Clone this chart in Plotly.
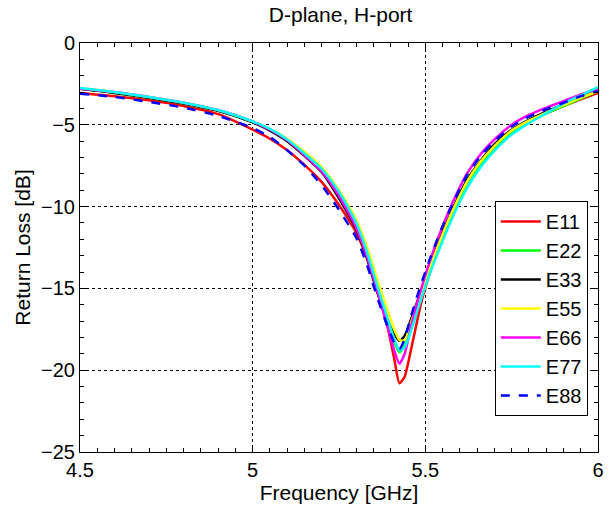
import plotly.graph_objects as go

freq = [4.5, 4.6, 4.7, 4.8, 4.9, 5.0, 5.05, 5.1, 5.15, 5.2, 5.25, 5.3, 5.33, 5.36,
        5.39, 5.41, 5.425, 5.44, 5.46, 5.49, 5.52, 5.55, 5.58, 5.62, 5.66, 5.7,
        5.75, 5.8, 5.85, 5.9, 5.95, 6.0]

E11 = [-3.05, -3.25, -3.5, -3.85, -4.35, -5.3, -5.85, -6.55, -7.45, -8.5, -9.9, -11.6,
       -13.1, -15.0, -17.3, -19.3, -20.8, -20.4, -18.6, -15.7, -13.6, -11.8, -10.3,
       -8.5, -7.3, -6.3, -5.4, -4.8, -4.3, -3.85, -3.45, -3.05]
E22 = [-2.8, -3.05, -3.35, -3.7, -4.15, -4.85, -5.3, -5.95, -6.8, -7.8, -9.3, -11.2,
       -12.9, -15.0, -17.0, -18.3, -18.9, -18.5, -17.3, -15.4, -13.6, -11.9, -10.4,
       -8.6, -7.4, -6.4, -5.45, -4.8, -4.3, -3.85, -3.4, -2.95]
E33 = [-2.8, -3.05, -3.35, -3.7, -4.15, -4.85, -5.35, -6.0, -6.9, -7.9, -9.5, -11.4,
       -13.1, -15.2, -16.9, -17.8, -18.2, -17.9, -16.8, -15.0, -13.2, -11.6, -10.1,
       -8.4, -7.2, -6.2, -5.3, -4.7, -4.2, -3.75, -3.3, -2.9]
E55 = [-2.75, -3.0, -3.3, -3.65, -4.1, -4.8, -5.25, -5.85, -6.65, -7.6, -9.0, -10.8,
       -12.4, -14.4, -16.3, -17.5, -18.15, -18.2, -17.0, -15.1, -13.3, -11.7, -10.2,
       -8.5, -7.25, -6.3, -5.35, -4.75, -4.25, -3.8, -3.35, -2.95]
E66 = [-2.8, -3.0, -3.3, -3.65, -4.1, -4.8, -5.3, -5.95, -6.85, -7.85, -9.35, -11.3,
       -13.0, -15.1, -17.3, -18.8, -19.6, -19.0, -17.2, -14.9, -12.9, -11.2, -9.7,
       -8.0, -6.8, -5.9, -5.0, -4.4, -3.95, -3.55, -3.15, -2.8]
E77 = [-2.75, -3.0, -3.3, -3.65, -4.1, -4.8, -5.25, -5.9, -6.75, -7.7, -9.1, -11.0,
       -12.7, -14.8, -16.8, -18.1, -18.8, -18.6, -17.5, -15.5, -13.7, -12.1, -10.6,
       -8.9, -7.6, -6.6, -5.6, -4.9, -4.3, -3.7, -3.2, -2.7]
E88 = [-3.1, -3.3, -3.6, -3.95, -4.45, -5.2, -5.75, -6.55, -7.5, -8.7, -10.2, -11.9,
       -13.5, -15.5, -17.3, -18.3, -18.7, -18.1, -16.6, -14.6, -12.8, -11.2, -9.8,
       -8.1, -6.9, -6.0, -5.1, -4.5, -4.05, -3.65, -3.25, -2.95]

names = ["E11", "E22", "E33", "E55", "E66", "E77", "E88"]
series = [E11, E22, E33, E55, E66, E77, E88]
colors = ["#ff0000", "#00ff00", "#000000", "#ffff00", "#ff00ff", "#00ffff", "#0000ff"]
dashes = ["solid"] * 6 + ["dash"]

FONT = "Liberation Sans, Arial, sans-serif"

fig = go.Figure()
for n, s, c, d in zip(names, series, colors, dashes):
    fig.add_trace(go.Scatter(x=freq, y=s, name=n, mode="lines", legendgroup=n,
                             line=dict(color=c, width=2.5, dash=d, shape="spline", smoothing=0.6)))

axis_common = dict(
    showline=True, linecolor="black", linewidth=1, mirror="allticks",
    ticks="inside", ticklen=6, tickcolor="black",
    showgrid=True, gridcolor="black", gridwidth=1, griddash="dot",
    zeroline=False, tickfont=dict(family=FONT, size=20, color="black"),
)

fig.update_xaxes(range=[4.5, 6.0], tickvals=[4.5, 5, 5.5, 6], ticktext=["4.5", "5", "5.5", "6"],
                 minor=dict(dtick=0.05, ticks="inside", ticklen=4, tickcolor="black", showgrid=False),
                 title=dict(text="Frequency [GHz]", font=dict(family=FONT, size=21, color="black"), standoff=4),
                 **axis_common)
fig.update_yaxes(range=[-25, 0], tickvals=[0, -5, -10, -15, -20, -25],
                 minor=dict(dtick=1, ticks="inside", ticklen=4, tickcolor="black", showgrid=False),
                 title=dict(text="Return Loss [dB]", font=dict(family=FONT, size=21, color="black"), standoff=4),
                 **axis_common)

fig.update_layout(
    width=616, height=512,
    margin=dict(l=80, r=14, t=43, b=60),
    paper_bgcolor="white", plot_bgcolor="white",
    title=dict(text="D-plane, H-port", x=0.553, xanchor="center", y=0.972, yanchor="middle",
               font=dict(family=FONT, size=21, color="black")),
    showlegend=True,
    legend=dict(x=0.8008, y=0.6137, xanchor="left", yanchor="top",
                bgcolor="white", bordercolor="black", borderwidth=1,
                font=dict(family=FONT, size=20, color="black"),
                tracegroupgap=0, itemwidth=40),
)

fig.write_html("out.html")
